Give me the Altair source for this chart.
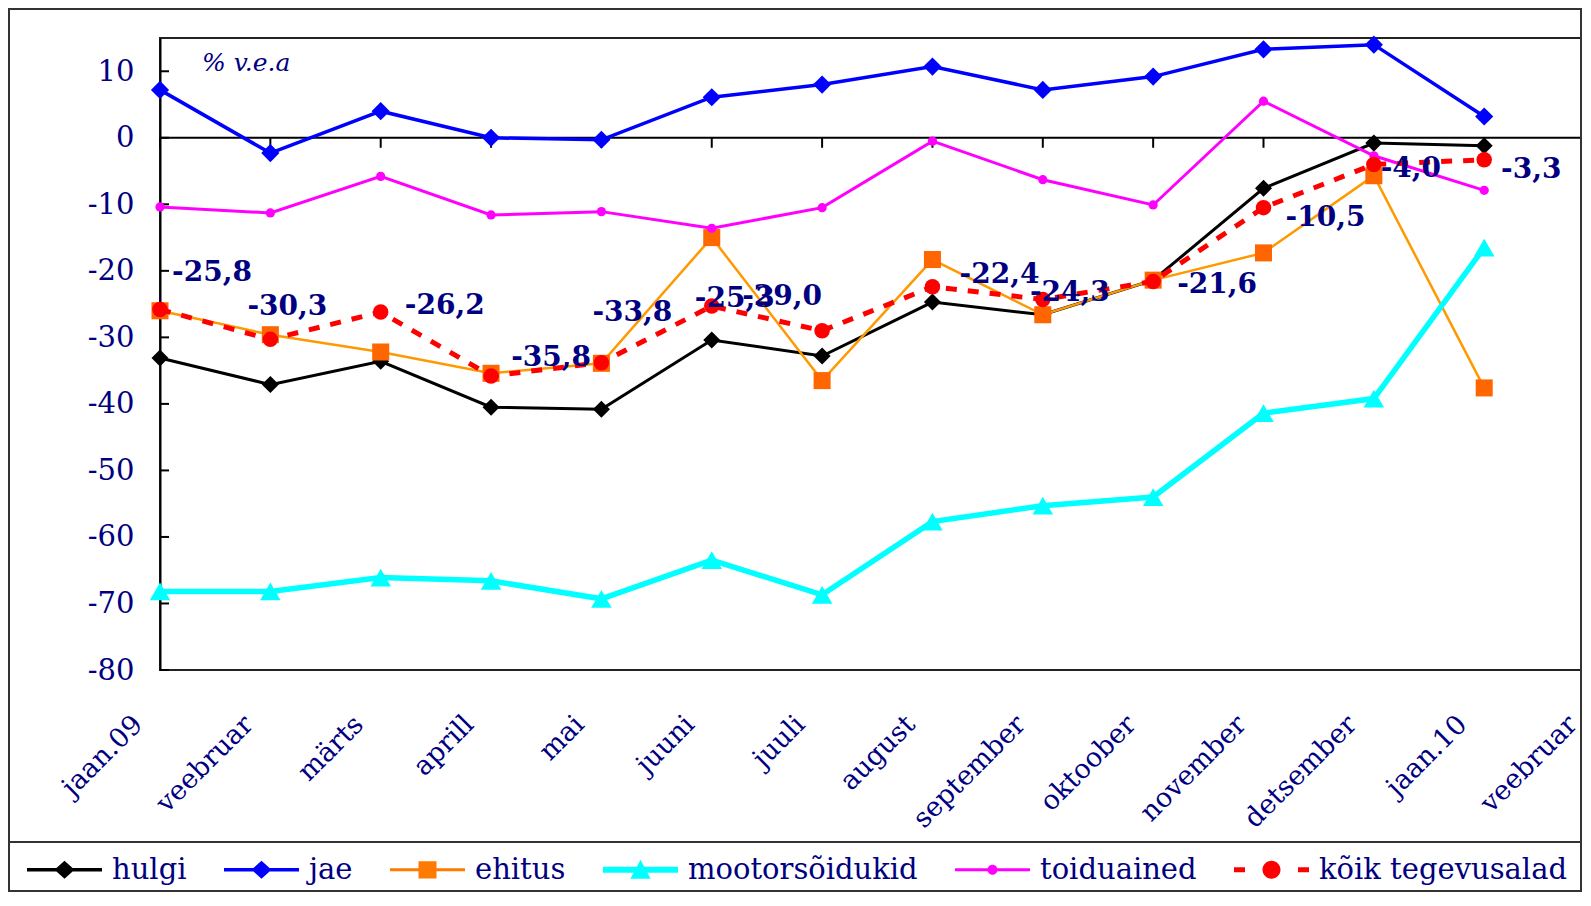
import json
import altair as alt
import pandas as pd

# ---------------- data ----------------
months = ["jaan.09", "veebruar", "märts", "aprill", "mai", "juuni", "juuli",
          "august", "september", "oktoober", "november", "detsember", "jaan.10", "veebruar"]
series_names = ["hulgi", "jae", "ehitus", "mootorsõidukid", "toiduained", "kõik tegevusalad"]

hulgi = [-33.1, -37.1, -33.6, -40.5, -40.8, -30.4, -32.8, -24.7, -26.6, -21.4, -7.6, -0.8, -1.2]
jae = [7.2, -2.3, 4.0, 0.0, -0.3, 6.1, 8.0, 10.7, 7.2, 9.2, 13.3, 14.0, 3.2]
ehitus = [-26.0, -29.6, -32.2, -35.4, -33.9, -15.0, -36.5, -18.3, -26.6, -21.4, -17.3, -5.7, -37.6]
mootor = [-68.2, -68.2, -66.1, -66.6, -69.3, -63.5, -68.7, -57.7, -55.3, -54.0, -41.4, -39.2, -16.5]
toidu = [-10.4, -11.3, -5.8, -11.6, -11.1, -13.6, -10.5, -0.5, -6.3, -10.1, 5.5, -2.7, -7.9]
koik = [-25.8, -30.3, -26.2, -35.8, -33.8, -25.3, -29.0, -22.4, -24.3, -21.6, -10.5, -4.0, -3.3]

y_ticks = [-80, -70, -60, -50, -40, -30, -20, -10, 0, 10]
unit_note = "% v.e.a"

# label nudges (pixels, label centre relative to its point)
label_dx = [52, 17, 64, 60, 31, 23, -40, 67, 27, 64, 62, 37, 47]
label_dy = [-36, -32, -6, -18, -50, -7, -34, -12, -6, 4, 10, 5, 10]

# ---------------- styling ----------------
NAVY = "#000080"
PW, PH = 1422, 632
STEP = 110.35
X_RANGE = 13 * STEP
Y_PX = PH / 95.0

styles = {
    "hulgi": dict(color="#000000", line="#000000", width=3, shape="diamond", size=290),
    "jae": dict(color="#0000FF", line="#0000FF", width=3.5, shape="diamond", size=330),
    "ehitus": dict(color="#FF6600", line="#FF9900", width=2.5, shape="square", size=290),
    "mootorsõidukid": dict(color="#00FFFF", line="#00FFFF", width=5.5, shape="triangle-up", size=420),
    "toiduained": dict(color="#FF00FF", line="#FF00FF", width=3, shape="circle", size=85),
    "kõik tegevusalad": dict(color="#FF0000", line="#FF0000", width=5, shape="circle", size=240),
}
legend_colors = ["#000000", "#0000FF", "#FF7A00", "#00FFFF", "#FF00FF", "#FF0000"]
legend_paths = [
    "M-1,-0.045H1V0.045H-1Z M-0.267,0L0,-0.24L0.267,0L0,0.24Z",
    "M-1,-0.045H1V0.045H-1Z M-0.267,0L0,-0.24L0.267,0L0,0.24Z",
    "M-1,-0.04H1V0.04H-1Z M-0.24,-0.23H0.24V0.23H-0.24Z",
    "M-1,-0.08H1V0.08H-1Z M0,-0.27L0.27,0.24H-0.27Z",
    "M-1,-0.04H1V0.04H-1Z M-0.133,0A0.133,0.133 0 1,1 0.133,0A0.133,0.133 0 1,1 -0.133,0Z",
    "M-1,-0.067H-0.707V0.067H-1Z M0.707,-0.067H1V0.067H0.707Z M-0.24,0A0.24,0.24 0 1,1 0.24,0A0.24,0.24 0 1,1 -0.24,0Z",
]

all_vals = [hulgi, jae, ehitus, mootor, toidu, koik]

xs = alt.Scale(domain=[0, 13], range=[0, X_RANGE], nice=False, zero=False)
ys = alt.Scale(domain=[-80, 15], nice=False, zero=False)

label_expr = json.dumps(months, ensure_ascii=False) + "[datum.value]"

x_axis = alt.Axis(values=list(range(14)), labelExpr=label_expr, labelAngle=315,
                  labelAlign="right", labelBaseline="middle", labelPadding=50,
                  labelOffset=-22, domain=False, ticks=False, tickSize=0, grid=False,
                  title=None, labelFont="DejaVu Serif", labelFontSize=27,
                  labelColor=NAVY, labelOverlap=False, labelFlush=False,
                  labelBound=False, labelLimit=400)
y_axis = alt.Axis(values=y_ticks, labelExpr="datum.value + ''", domain=True,
                  domainColor="#000000", domainWidth=2, ticks=False, tickSize=0,
                  grid=False, title=None, labelFont="DejaVu Serif", labelFontSize=29,
                  labelColor=NAVY, labelPadding=26, labelOverlap=False,
                  labelFlush=False, labelBound=False)


def X(field):
    return alt.X(field, scale=xs, axis=x_axis)


def Y(field):
    return alt.Y(field, scale=ys, axis=y_axis)


layers = []

# inward y ticks
df_yt = pd.DataFrame({"t": y_ticks})
layers.append(
    alt.Chart(df_yt).mark_rule(color="#000000", strokeWidth=2).encode(
        y=Y("t:Q"), x=alt.value(0), x2=alt.value(9)
    )
)
# zero (category) axis line
layers.append(
    alt.Chart(pd.DataFrame({"z": [0]})).mark_rule(color="#000000", strokeWidth=2).encode(
        y=Y("z:Q"), x=alt.value(0), x2=alt.value(PW)
    )
)
# x ticks hanging from zero line
df_xt = pd.DataFrame({"i": list(range(14)), "a": [0.0] * 14, "b": [-1.5] * 14})
layers.append(
    alt.Chart(df_xt).mark_rule(color="#000000", strokeWidth=2).encode(
        x=X("i:Q"), y=Y("a:Q"), y2="b:Q"
    )
)

# series
for name, vals in zip(series_names, all_vals):
    st = styles[name]
    d = pd.DataFrame({"i": list(range(len(vals))), "v": vals})
    line_kw = dict(color=st["line"], strokeWidth=st["width"])
    if name == "kõik tegevusalad":
        line_kw["strokeDash"] = [11, 11]
    layers.append(
        alt.Chart(d).mark_line(**line_kw).encode(x=X("i:Q"), y=Y("v:Q"))
    )
    layers.append(
        alt.Chart(d).mark_point(filled=True, shape=st["shape"], size=st["size"],
                                color=st["color"], opacity=1).encode(
            x=X("i:Q"), y=Y("v:Q")
        )
    )

# data labels
lab = pd.DataFrame({
    "i": list(range(len(koik))), "v": koik,
    "txt": [f"{v:.1f}".replace(".", ",") for v in koik],
    "ndx": label_dx, "ndy": label_dy,
})
layers.append(
    alt.Chart(lab).transform_calculate(
        lx=f"datum.i + datum.ndx / {STEP}", ly=f"datum.v - datum.ndy / {Y_PX}"
    ).mark_text(font="DejaVu Serif", fontWeight="bold", fontSize=28, color=NAVY,
                align="center", baseline="middle").encode(
        x=X("lx:Q"), y=Y("ly:Q"), text="txt:N"
    )
)

# unit note
layers.append(
    alt.Chart(pd.DataFrame({"a": [0]})).mark_text(
        font="DejaVu Serif", fontStyle="italic", fontSize=25, color=NAVY,
        align="left", baseline="middle").encode(
        x=alt.value(42), y=alt.value(25), text=alt.value(unit_note)
    )
)

# legend (native legend driven by an invisible layer)
leg_def = alt.Legend(orient="none", legendX=-133, legendY=794, direction="horizontal",
                     columns=6, title=None, symbolSize=5625, symbolStrokeWidth=0,
                     labelFont="DejaVu Serif", labelFontSize=29, labelColor=NAVY,
                     labelOffset=10, columnPadding=37, labelLimit=500,
                     labelBaseline="middle")
df_leg = pd.DataFrame({"series": series_names, "i": [0] * 6, "v": [0] * 6})
layers.append(
    alt.Chart(df_leg).mark_point(filled=True, size=0, opacity=1).encode(
        x=X("i:Q"), y=Y("v:Q"),
        color=alt.Color("series:N", scale=alt.Scale(domain=series_names, range=legend_colors),
                        legend=leg_def),
        shape=alt.Shape("series:N", scale=alt.Scale(domain=series_names, range=legend_paths),
                        legend=leg_def),
    )
)

# outer frame and legend box line
one = pd.DataFrame({"a": [0]})
layers.append(
    alt.Chart(one).mark_rect(filled=False, stroke="#333333", strokeWidth=2).encode(
        x=alt.value(-151), x2=alt.value(PW - 1), y=alt.value(-29), y2=alt.value(853)
    )
)
layers.append(
    alt.Chart(one).mark_rule(color="#333333", strokeWidth=2).encode(
        x=alt.value(-151), x2=alt.value(PW - 1), y=alt.value(804)
    )
)

chart = alt.layer(*layers).properties(
    width=PW, height=PH,
    autosize=alt.AutoSizeParams(type="none"),
    padding={"left": 152, "top": 30, "right": 0, "bottom": 222},
    background="white",
).configure_view(stroke="#222222", strokeWidth=2)

chart.save("out.html", embed_options={"renderer": "svg", "actions": False})
